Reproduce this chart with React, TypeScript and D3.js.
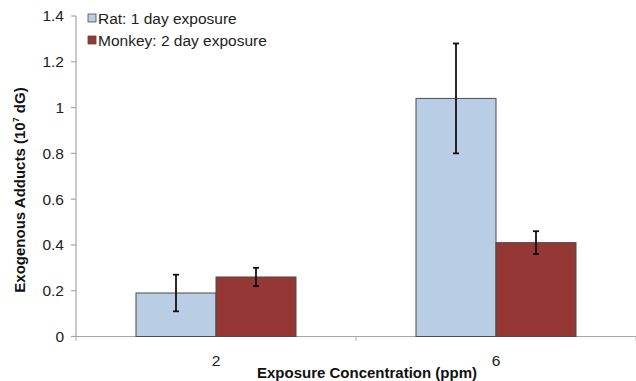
import React from "react";
import * as d3 from "d3";

const categories = ["2", "6"];
const seriesNames = ["Rat: 1 day exposure", "Monkey: 2 day exposure"];
const ratValues = [0.19, 1.04];
const ratErrors = [0.08, 0.24];
const monkeyValues = [0.26, 0.41];
const monkeyErrors = [0.04, 0.05];
const yTicks = [0, 0.2, 0.4, 0.6, 0.8, 1, 1.2, 1.4];
const colors = ["#b9cde5", "#953735"];

export default function App() {
  const W = 636, H = 381;
  const left = 76, right = 636, top = 16, bottom = 336.5;
  const x = d3.scaleBand<string>().domain(categories).range([left, right]).paddingInner(0).paddingOuter(0);
  const inner = d3.scaleBand<string>().domain(["0", "1"]).range([0, x.bandwidth()]).paddingOuter(0.75).paddingInner(0);
  const y = d3.scaleLinear().domain([0, 1.4]).range([bottom, top]);
  const series = [
    { vals: ratValues, errs: ratErrors },
    { vals: monkeyValues, errs: monkeyErrors },
  ];
  const font = "Liberation Sans, Arial, sans-serif";
  return (
    <svg width={W} height={H} style={{ position: "absolute", left: 0, top: 0, background: "#fff" }} fontFamily={font}>
      {/* y axis */}
      <line x1={left} x2={left} y1={y(1.4)} y2={bottom} stroke="#a6a6a6" strokeWidth={1.2} />
      {yTicks.map((t) => (
        <g key={t}>
          <line x1={left - 5} x2={left} y1={y(t)} y2={y(t)} stroke="#a6a6a6" strokeWidth={1.2} />
          <text x={left - 12} y={y(t)} dy="0.35em" textAnchor="end" fontSize={15.5} fill="#222">
            {d3.format("~g")(t)}
          </text>
        </g>
      ))}
      {/* x axis */}
      <line x1={left} x2={right} y1={bottom} y2={bottom} stroke="#a6a6a6" strokeWidth={1.2} />
      {[left, left + x.bandwidth(), right].map((v, i) => (
        <line key={i} x1={v} x2={v} y1={bottom} y2={bottom + 4} stroke="#a6a6a6" strokeWidth={1} />
      ))}
      {categories.map((c) => (
        <text key={c} x={(x(c) as number) + x.bandwidth() / 2} y={361} dy="0.35em" textAnchor="middle" fontSize={15.5} fill="#222">
          {c}
        </text>
      ))}
      {/* bars */}
      {series.map((s, si) =>
        categories.map((c, ci) => {
          const bx = (x(c) as number) + (inner(String(si)) as number);
          const bw = inner.bandwidth();
          const v = s.vals[ci];
          const e = s.errs[ci];
          const cx = bx + bw / 2;
          return (
            <g key={si + "-" + ci}>
              <rect x={bx} y={y(v)} width={bw} height={bottom - y(v)} fill={colors[si]} stroke="#4d4d4d" strokeWidth={1} />
              <line x1={cx} x2={cx} y1={y(v + e)} y2={y(v - e)} stroke="#111" strokeWidth={1.8} />
              <line x1={cx - 3} x2={cx + 3} y1={y(v + e)} y2={y(v + e)} stroke="#111" strokeWidth={1.8} />
              <line x1={cx - 3} x2={cx + 3} y1={y(v - e)} y2={y(v - e)} stroke="#111" strokeWidth={1.8} />
            </g>
          );
        })
      )}
      {/* legend */}
      {seriesNames.map((n, i) => (
        <g key={n} transform={`translate(88, ${14 + i * 22})`}>
          <rect x={0} y={0} width={8} height={8} fill={colors[i]} stroke="#4d4d4d" strokeWidth={0.8} />
          <text x={10} y={4.5} dy="0.35em" fontSize={15.5} fill="#222">{n}</text>
        </g>
      ))}
      {/* axis titles */}
      <text transform={`translate(25, 190) rotate(-90)`} textAnchor="middle" fontSize={15} fontWeight="bold" fill="#111">
        Exogenous Adducts (10<tspan dy="-6" fontSize={9}>7</tspan><tspan dy="6"> dG)</tspan>
      </text>
      <text x={367} y={378} textAnchor="middle" fontSize={15} fontWeight="bold" fill="#111">
        Exposure Concentration (ppm)
      </text>
    </svg>
  );
}
